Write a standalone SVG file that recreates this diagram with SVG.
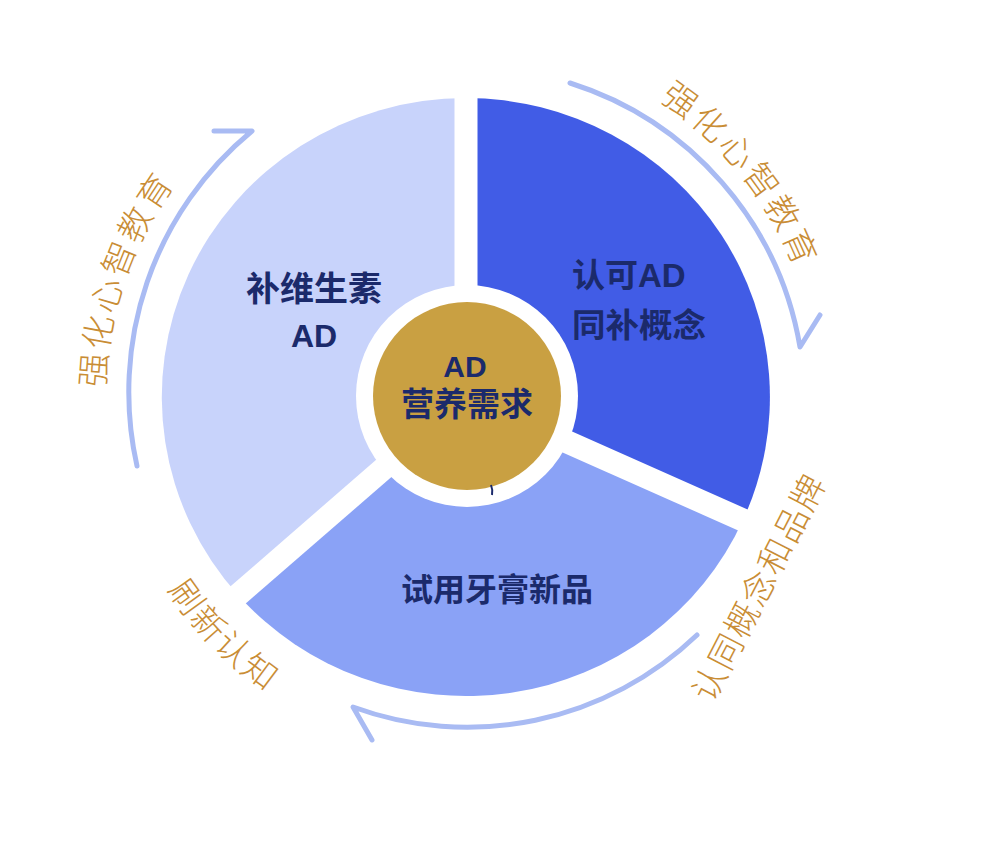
<svg xmlns="http://www.w3.org/2000/svg" width="1000" height="860" viewBox="0 0 1000 860">
  <defs>
    <style>
      .lbl { font-family: "Liberation Sans", "Noto Sans CJK SC", sans-serif; font-weight: bold; fill: #1b2a6b; }
      .arcText { font-family: "Noto Sans CJK SC", sans-serif; font-weight: 300; font-size: 34px; fill: #c98d35; }
      .flow { fill: none; stroke: #a9bbf3; stroke-width: 5; stroke-linecap: round; stroke-linejoin: round; }
      .gap { stroke: #ffffff; stroke-width: 23; }
    </style>
    <path id="pLeft" d="M156.6,582.9 A361,361 0 0 1 336.6,60.0"/>
    <path id="pTop" d="M472.2,43.1 A354,354 0 0 1 813.5,464.5"/>
    <path id="pBL" d="M111.9,366 A355.5,355.5 0 0 0 490.8,751.6"/>
  </defs>
  <rect width="1000" height="860" fill="#ffffff"/>

  <g id="connectors">
    <path class="flow" d="M137,466 A338,338 0 0 1 252,131 L214,131"/>
    <path class="flow" d="M570,83 A336,336 0 0 1 800,347 L820,315"/>
    <path class="flow" d="M697,635 A332,332 0 0 1 353,707 L372,740"/>
  </g>

  <g id="seg-left">
    <path d="M466,397 L238,595 A304,299 0 0 1 466,98 Z" fill="#c8d3fb"/>
  </g>
  <g id="seg-right">
    <path d="M466,397 L466,98 A304,299 0 0 1 743,520 Z" fill="#415ce6"/>
  </g>
  <g id="seg-bottom">
    <path d="M466,397 L743,520 A304,299 0 0 1 238,595 Z" fill="#8aa2f6"/>
  </g>
  <g id="gaps">
    <line class="gap" x1="466" y1="397" x2="466" y2="70"/>
    <line class="gap" x1="466" y1="397" x2="770" y2="532"/>
    <line class="gap" x1="466" y1="397" x2="215" y2="615"/>
  </g>

  <g id="center">
    <circle cx="467" cy="396" r="111" fill="#ffffff"/>
    <circle cx="467" cy="396" r="94" fill="#c9a042"/>
    <path d="M491,485 Q493,490 492,495" fill="none" stroke="#1b2a6b" stroke-width="2"/>
    <text class="lbl" x="465" y="377" font-size="30" text-anchor="middle">AD</text>
    <text class="lbl" x="467" y="416" font-size="33" text-anchor="middle">营养需求</text>
  </g>

  <g id="node-left">
    <text class="lbl" x="314" y="301" font-size="34" text-anchor="middle">补维生素</text>
    <text class="lbl" x="314" y="347" font-size="32" text-anchor="middle">AD</text>
  </g>
  <g id="node-right">
    <text class="lbl" x="572" y="287" font-size="33">认可AD</text>
    <text class="lbl" x="572" y="337" font-size="33.5">同补概念</text>
  </g>
  <g id="node-bottom">
    <text class="lbl" x="497" y="601" font-size="32" text-anchor="middle">试用牙膏新品</text>
  </g>

  <g id="arc-labels">
    <text class="arcText" letter-spacing="2.8"><textPath href="#pLeft" startOffset="50%" text-anchor="middle">强化心智教育</textPath></text>
    <text class="arcText" letter-spacing="3"><textPath href="#pTop" startOffset="50%" text-anchor="middle">强化心智教育</textPath></text>
    <text class="arcText" letter-spacing="2.2"><textPath href="#pBL" startOffset="50%" text-anchor="middle">刷新认知</textPath></text>
    <text class="arcText" letter-spacing="1.8" x="770" y="593" text-anchor="middle" transform="rotate(-62.7 770 593)">认同概念和品牌</text>
  </g>
</svg>
